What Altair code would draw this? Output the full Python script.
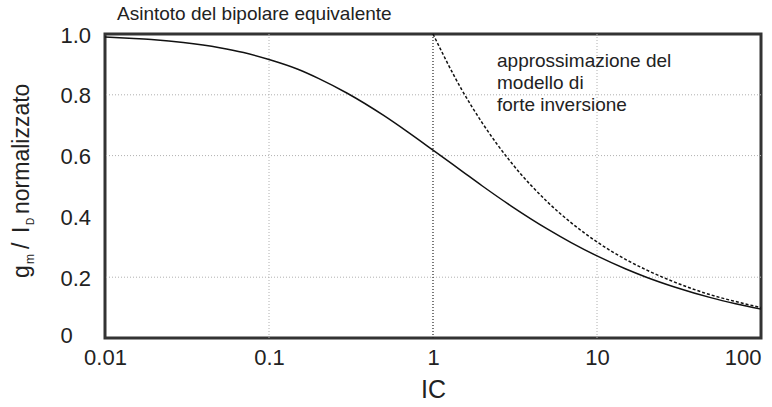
import altair as alt
import pandas as pd

# ---- data ----
ic_full = [0.01, 0.015, 0.02, 0.03, 0.05, 0.07, 0.1, 0.15, 0.2, 0.3, 0.5, 0.7,
           1, 1.5, 2, 3, 5, 7, 10, 15, 20, 30, 50, 70, 100]
gm_full = [0.990, 0.985, 0.981, 0.972, 0.955, 0.939, 0.916, 0.884, 0.854, 0.805,
           0.732, 0.678, 0.618, 0.549, 0.500, 0.434, 0.358, 0.313, 0.270, 0.227,
           0.200, 0.167, 0.132, 0.113, 0.095]
ic_strong = [1, 1.5, 2, 3, 5, 7, 10, 15, 20, 30, 50, 70, 100]
gm_strong = [1.0, 0.816, 0.707, 0.577, 0.447, 0.378, 0.316, 0.258, 0.224, 0.183,
             0.141, 0.120, 0.100]
x_ticks = [0.01, 0.1, 1, 10, 100]
y_ticks = [0, 0.2, 0.4, 0.6, 0.8, 1.0]
x_grid = [0.1, 10]
y_grid = [0.2, 0.6, 0.8]
x_boundary = [1]
note_lines = ["approssimazione del", "modello di", "forte inversione"]
top_label = "Asintoto del bipolare equivalente"

FONT = "Liberation Sans"
W, H = 656, 304

full_df = pd.DataFrame({"ic": ic_full, "gm": gm_full})
strong_df = pd.DataFrame({"ic": ic_strong, "gm": gm_strong})

xscale = alt.Scale(type="log", domain=[0.01, 100], nice=False)
yscale = alt.Scale(domain=[0, 1], nice=False, zero=False)

xaxis = alt.Axis(values=x_ticks, format="~g", title="IC", labelFontSize=22,
                 titleFontSize=25, titleFontWeight="normal", labelPadding=9,
                 titlePadding=9, labelFont=FONT, titleFont=FONT,
                 labelAlign=alt.ExprRef(expr="datum.value == 100 ? 'right' : 'center'"),
                 labelColor="#222", titleColor="#222", domain=False, ticks=False,
                 grid=False, labelFlush=False, labelOverlap=False)
yaxis = alt.Axis(values=y_ticks, title=None,
                 labelExpr="datum.value == 0 ? '0' : format(datum.value, '.1f')",
                 labelAlign="left",
                 labelOffset=alt.ExprRef(expr="datum.value == 0 ? -3 : 1"),
                 labelFontSize=22, labelPadding=45, labelFont=FONT,
                 labelColor="#222", domain=False, ticks=False, grid=False,
                 labelFlush=False, labelOverlap=False)

grid_x = alt.Chart(pd.DataFrame({"v": x_grid})).mark_rule(
    color="#b0b0b0", strokeDash=[1, 2], strokeWidth=1
).encode(x=alt.X("v:Q", scale=xscale, axis=xaxis))

grid_y = alt.Chart(pd.DataFrame({"v": y_grid})).mark_rule(
    color="#b0b0b0", strokeDash=[1, 2], strokeWidth=1
).encode(y=alt.Y("v:Q", scale=yscale, axis=yaxis))

boundary = alt.Chart(pd.DataFrame({"v": x_boundary})).mark_rule(
    color="#222", strokeDash=[1, 2], strokeWidth=1.2
).encode(x=alt.X("v:Q", scale=xscale, axis=xaxis))

line_full = alt.Chart(full_df).mark_line(
    color="#111", strokeWidth=1.5, interpolate="monotone"
).encode(x=alt.X("ic:Q", scale=xscale, axis=xaxis),
         y=alt.Y("gm:Q", scale=yscale, axis=yaxis))

line_strong = alt.Chart(strong_df).mark_line(
    color="#111", strokeWidth=1.5, strokeDash=[3, 2], interpolate="monotone"
).encode(x=alt.X("ic:Q", scale=xscale, axis=xaxis),
         y=alt.Y("gm:Q", scale=yscale, axis=yaxis))


def txt(t, x, y, size, angle=0, align="left", baseline="alphabetic"):
    return alt.Chart(alt.Data(values=[{"t": t}])).mark_text(
        font=FONT, fontSize=size, color="#222", align=align,
        baseline=baseline, angle=angle
    ).encode(text="t:N", x=alt.value(x), y=alt.value(y))


note = alt.Chart(alt.Data(values=[{"a": 1}])).mark_text(
    font=FONT, fontSize=19, color="#222", align="left", baseline="alphabetic",
    lineHeight=22, text=note_lines
).encode(x=alt.value(392), y=alt.value(33))

top = txt(top_label, 12, -14, 19)

# y-axis title with subscripts, built from pieces (rotated)
bx = -76
ytitle = [
    txt("g", bx, 278 - 34, 23, angle=270),
    txt("m", bx + 5, 264 - 34, 12, angle=270),
    txt("/", bx, 249 - 34, 23, angle=270),
    txt("I", bx, 233 - 34, 23, angle=270),
    txt("D", bx + 5, 225 - 34, 10, angle=270),
    txt("normalizzato", bx, 214 - 34, 23, angle=270),
]

chart = alt.layer(grid_x, grid_y, boundary, line_full, line_strong, note, top,
                  *ytitle).properties(
    width=W, height=H,
    autosize=alt.AutoSizeParams(type="none"),
    padding={"left": 105, "top": 34, "right": 772 - 105 - W, "bottom": 407 - 34 - H},
    background="white",
).configure_view(stroke="#333", strokeWidth=3)

chart.save("out.html", embed_options={"renderer": "svg", "actions": False})
